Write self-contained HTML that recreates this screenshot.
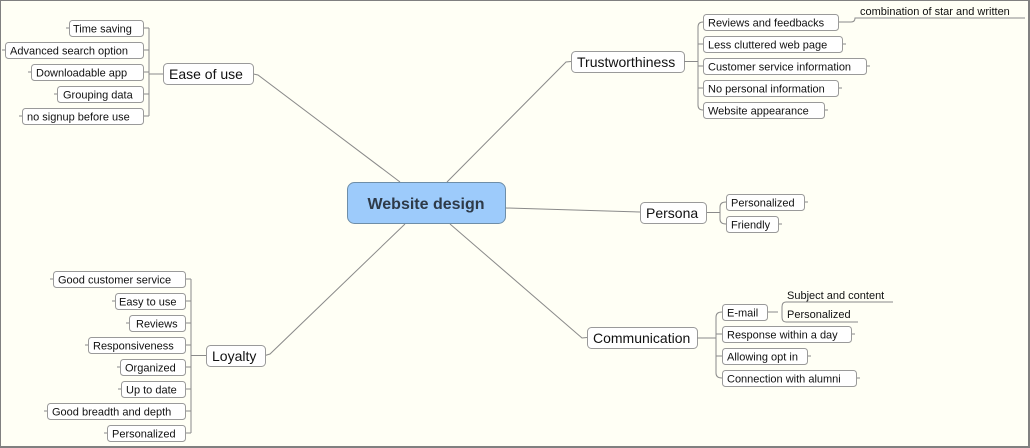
<!DOCTYPE html>
<html><head><meta charset="utf-8"><style>
html,body{margin:0;padding:0;background:#fffff5;}
svg{display:block;}
text{font-family:"Liberation Sans",sans-serif;fill:#111;}
.b{fill:#fff;stroke:#9a9a9a;stroke-width:1;}
.l{stroke:#8a8a8a;stroke-width:1;fill:none;}
.s{font-size:11px;}
.t{font-size:14px;}
</style></head><body>
<svg width="1030" height="448" viewBox="0 0 1030 448" xmlns="http://www.w3.org/2000/svg">
<rect x="0.5" y="0.5" width="1028" height="446" fill="#fffff5" stroke="#808080" stroke-width="1"/>
<line x1="1029" y1="0" x2="1029" y2="448" stroke="#808080" stroke-width="2"/>
<line x1="0" y1="447" x2="1030" y2="447" stroke="#808080" stroke-width="2"/>

<!-- main connectors -->
<g class="l">
<path d="M253.5 74 L258 75 L400 182"/>
<path d="M447 182 L566 62 L571 61.5"/>
<path d="M506 208 L640 212"/>
<path d="M450 224 L582 338 L587 337.5"/>
<path d="M405 224 L270 354 L265 355.5"/>
</g>

<!-- center -->
<rect x="347.5" y="182.5" width="158" height="41" rx="7" fill="#9dcbfb" stroke="#6e8ea8"/>
<text x="426" y="209" text-anchor="middle" style="font-size:16px;font-weight:bold;fill:#2e3a48">Website design</text>

<!-- Ease of use -->
<rect class="b" x="163.5" y="63.5" width="90" height="21" rx="4"/>
<text class="t" x="169" y="79">Ease of use</text>
<g class="l">
<path d="M163 74 H149 M149 28 V116"/>
<path d="M144 28 H149 M144 50 H149 M144 72 H149 M144 94 H149 M144 116 H149"/>
<path d="M69 28 H66 M5 50 H2 M31 72 H28 M57 94 H54 M22 116 H19"/>
</g>
<rect class="b" x="69.5" y="20.5" width="74" height="16" rx="3"/><text class="s" x="73" y="32.5">Time saving</text>
<rect class="b" x="5.5" y="42.5" width="138" height="16" rx="3"/><text class="s" x="10" y="54.5">Advanced search option</text>
<rect class="b" x="31.5" y="64.5" width="112" height="16" rx="3"/><text class="s" x="36" y="76.5">Downloadable app</text>
<rect class="b" x="57.5" y="86.5" width="86" height="16" rx="3"/><text class="s" x="63" y="98.5">Grouping data</text>
<rect class="b" x="22.5" y="108.5" width="121" height="16" rx="3"/><text class="s" x="27" y="120.5">no signup before use</text>

<!-- Trustworthiness -->
<rect class="b" x="571.5" y="51.5" width="113" height="21" rx="4"/>
<text class="t" x="577" y="67">Trustworthiness</text>
<g class="l">
<path d="M684 61.5 H698 M698 27 Q698 22 703 22 M698 27 V105 Q698 110 703 110"/>
<path d="M698 44 H703 M698 66 H703 M698 88 H703"/>
<path d="M843 44 H846 M867 66 H870 M839 88 H842 M825 110 H828"/>
<path d="M839 22 H851 Q855 22 855 18 H1025"/>
</g>
<rect class="b" x="703.5" y="14.5" width="135" height="16" rx="3"/><text class="s" x="708" y="26.5">Reviews and feedbacks</text>
<rect class="b" x="703.5" y="36.5" width="139" height="16" rx="3"/><text class="s" x="708" y="48.5">Less cluttered web page</text>
<rect class="b" x="703.5" y="58.5" width="163" height="16" rx="3"/><text class="s" x="708" y="70.5">Customer service information</text>
<rect class="b" x="703.5" y="80.5" width="135" height="16" rx="3"/><text class="s" x="708" y="92.5">No personal information</text>
<rect class="b" x="703.5" y="102.5" width="121" height="16" rx="3"/><text class="s" x="708" y="114.5">Website appearance</text>
<text class="s" x="860" y="15">combination of star and written</text>

<!-- Persona -->
<rect class="b" x="640.5" y="202.5" width="66" height="21" rx="4"/>
<text class="t" x="646" y="218">Persona</text>
<g class="l">
<path d="M707 212.5 H720 M720 207 Q720 202 726 202 M720 207 V219 Q720 224 726 224"/>
<path d="M805 202 H808 M779 224 H782"/>
</g>
<rect class="b" x="726.5" y="194.5" width="78" height="16" rx="3"/><text class="s" x="731" y="206.5">Personalized</text>
<rect class="b" x="726.5" y="216.5" width="52" height="16" rx="3"/><text class="s" x="731" y="228.5">Friendly</text>

<!-- Communication -->
<rect class="b" x="587.5" y="327.5" width="110" height="21" rx="4"/>
<text class="t" x="593" y="343">Communication</text>
<g class="l">
<path d="M697 338 H716 M716 317 Q716 312 722 312 M716 317 V373 Q716 378 722 378"/>
<path d="M716 334 H722 M716 356 H722"/>
<path d="M852 334 H855 M808 356 H811 M857 378 H860"/>
<path d="M767 312 H778 M782 307 Q782 302 786 302 H893 M782 307 V317 Q782 322 786 322 H858"/>
</g>
<rect class="b" x="722.5" y="304.5" width="45" height="16" rx="3"/><text class="s" x="727" y="316.5">E-mail</text>
<rect class="b" x="722.5" y="326.5" width="129" height="16" rx="3"/><text class="s" x="727" y="338.5">Response within a day</text>
<rect class="b" x="722.5" y="348.5" width="85" height="16" rx="3"/><text class="s" x="727" y="360.5">Allowing opt in</text>
<rect class="b" x="722.5" y="370.5" width="134" height="16" rx="3"/><text class="s" x="727" y="382.5">Connection with alumni</text>
<text class="s" x="787" y="299">Subject and content</text>
<text class="s" x="787" y="318">Personalized</text>

<!-- Loyalty -->
<rect class="b" x="206.5" y="345.5" width="59" height="21" rx="4"/>
<text class="t" x="212" y="361">Loyalty</text>
<g class="l">
<path d="M206 355.5 H191 M191 279 V433"/>
<path d="M186 279 H191 M186 301 H191 M186 323 H191 M186 345 H191 M186 367 H191 M186 389 H191 M186 411 H191 M186 433 H191"/>
<path d="M53 279 H50 M115 301 H112 M129 323 H126 M88 345 H85 M120 367 H117 M121 389 H118 M47 411 H44 M107 433 H104"/>
</g>
<rect class="b" x="53.5" y="271.5" width="132" height="16" rx="3"/><text class="s" x="58" y="283.5">Good customer service</text>
<rect class="b" x="115.5" y="293.5" width="70" height="16" rx="3"/><text class="s" x="119" y="305.5">Easy to use</text>
<rect class="b" x="129.5" y="315.5" width="56" height="16" rx="3"/><text class="s" x="136" y="327.5">Reviews</text>
<rect class="b" x="88.5" y="337.5" width="97" height="16" rx="3"/><text class="s" x="93" y="349.5">Responsiveness</text>
<rect class="b" x="120.5" y="359.5" width="65" height="16" rx="3"/><text class="s" x="125" y="371.5">Organized</text>
<rect class="b" x="121.5" y="381.5" width="64" height="16" rx="3"/><text class="s" x="126" y="393.5">Up to date</text>
<rect class="b" x="47.5" y="403.5" width="138" height="16" rx="3"/><text class="s" x="52" y="415.5">Good breadth and depth</text>
<rect class="b" x="107.5" y="425.5" width="78" height="16" rx="3"/><text class="s" x="112" y="437.5">Personalized</text>
</svg>
</body></html>
